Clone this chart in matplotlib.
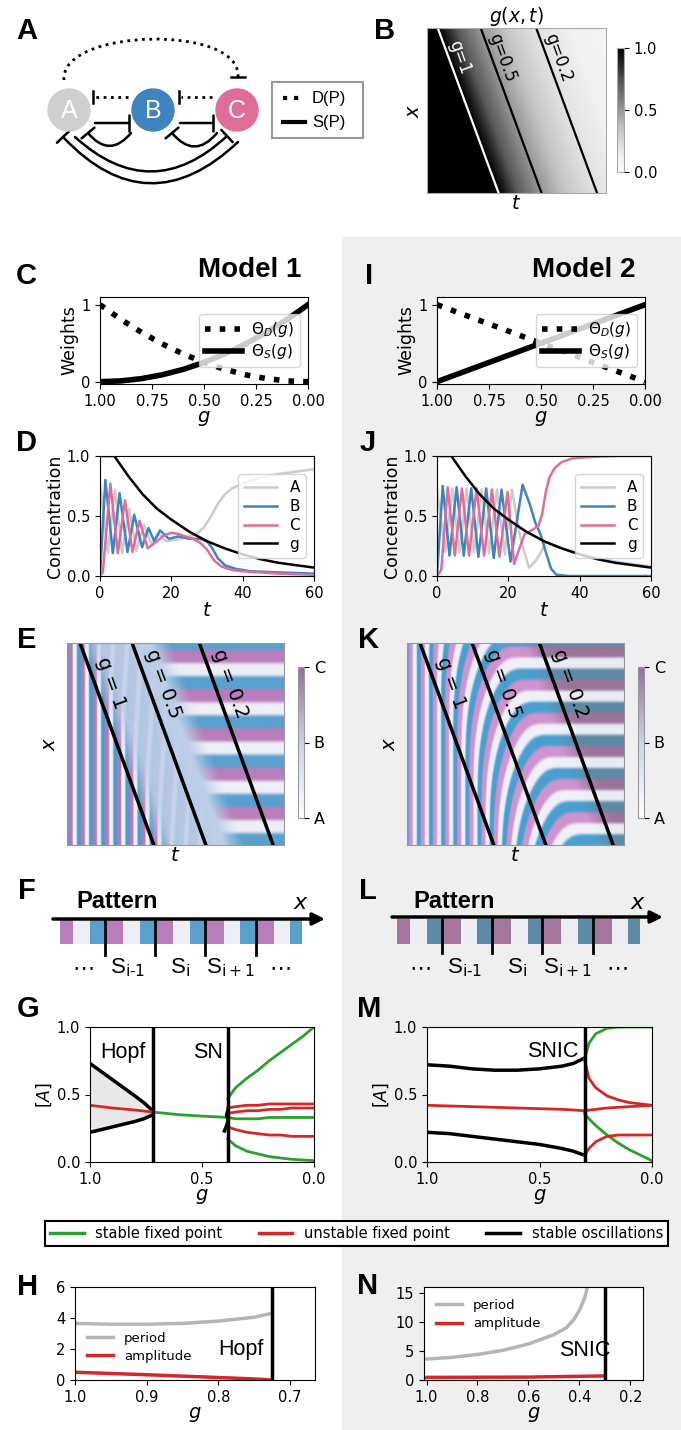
import numpy as np
import matplotlib.pyplot as plt
from matplotlib.colors import LinearSegmentedColormap, to_rgb
from matplotlib.cm import ScalarMappable
from matplotlib.lines import Line2D
from matplotlib.path import Path
from matplotlib.patches import Circle, FancyArrowPatch, Rectangle, ArrowStyle, PathPatch

W, H = 681, 1430
SANS = "Liberation Sans"

# ── data ─────────────────────────────────────────────────────────────────────
# C / I : weights vs g
w1_g = [1.0, 0.9, 0.8, 0.7, 0.6, 0.5, 0.4, 0.3, 0.2, 0.1, 0.0]
w1_D = [1.0, 0.81, 0.64, 0.49, 0.36, 0.25, 0.16, 0.09, 0.04, 0.01, 0.0]
w1_S = [0.0, 0.01, 0.04, 0.09, 0.16, 0.25, 0.36, 0.49, 0.64, 0.81, 1.0]
w2_g = [1.0, 0.0]
w2_D = [1.0, 0.0]
w2_S = [0.0, 1.0]

# D / J : concentrations vs t
g_t = [0, 4, 8, 12, 16, 20, 25, 30, 35, 40, 45, 50, 55, 60]
g_c = [1.0, 1.0, 0.83, 0.68, 0.56, 0.47, 0.37, 0.29, 0.23, 0.18, 0.14, 0.11, 0.09, 0.07]

d1_tA = [0, 2.2, 4.2, 6.2, 8.2, 10.2, 12.3, 14.5, 16.4, 18.6, 21, 24, 27, 29, 31, 33, 35, 37, 40, 45, 50, 55, 60]
d1_A = [0.78, 0.19, 0.72, 0.19, 0.56, 0.21, 0.43, 0.26, 0.35, 0.29, 0.30, 0.32, 0.35, 0.40, 0.49, 0.60, 0.68, 0.73, 0.77, 0.82, 0.85, 0.87, 0.89]
d1_tB = [0, 1.5, 3.6, 5.5, 7.7, 9.6, 11.8, 13.6, 15.2, 16.8, 19.3, 22, 25, 28, 30, 31.5, 33, 35, 38, 42, 50, 60]
d1_B = [0.0, 0.80, 0.19, 0.69, 0.20, 0.51, 0.24, 0.40, 0.29, 0.38, 0.31, 0.33, 0.31, 0.31, 0.29, 0.23, 0.15, 0.09, 0.06, 0.04, 0.03, 0.02]
d1_tC = [0, 0.8, 2.9, 5.0, 7.0, 9.1, 11.1, 13.4, 16, 18, 20, 22, 24, 26, 28, 30, 32, 34, 37, 40, 45, 50, 60]
d1_C = [0.0, 0.03, 0.77, 0.19, 0.63, 0.20, 0.46, 0.23, 0.29, 0.34, 0.36, 0.35, 0.33, 0.31, 0.28, 0.22, 0.13, 0.08, 0.05, 0.04, 0.03, 0.02, 0.01]

d2_tA = [0, 2.3, 4.3, 6.3, 8.3, 10.4, 12.5, 14.6, 16.8, 19.0, 21.0, 23.5, 25.8, 27.5, 28.8, 30.5, 33, 36, 40, 45, 50, 55, 60]
d2_A = [0.72, 0.20, 0.73, 0.20, 0.73, 0.20, 0.72, 0.19, 0.72, 0.18, 0.72, 0.30, 0.07, 0.12, 0.18, 0.28, 0.25, 0.22, 0.19, 0.15, 0.12, 0.10, 0.08]
d2_tB = [0, 1.6, 3.5, 5.5, 7.5, 9.6, 11.6, 13.8, 15.9, 18.1, 20.6, 24.0, 26, 27.5, 29, 30.5, 32, 33.5, 37, 40, 50, 60]
d2_B = [0.0, 0.75, 0.17, 0.74, 0.17, 0.73, 0.16, 0.73, 0.15, 0.72, 0.12, 0.76, 0.60, 0.45, 0.35, 0.20, 0.06, 0.01, 0.0, 0.0, 0.0, 0.0]
d2_tC = [0, 1.2, 3.0, 5.0, 7.0, 9.0, 11.1, 13.2, 15.4, 17.5, 19.8, 21.6, 23, 24.6, 26.5, 28.5, 29.5, 30.5, 31.5, 33, 35, 38, 42, 50, 60]
d2_C = [0.0, 0.05, 0.74, 0.17, 0.73, 0.17, 0.73, 0.17, 0.72, 0.16, 0.70, 0.10, 0.22, 0.35, 0.38, 0.42, 0.52, 0.70, 0.82, 0.90, 0.95, 0.98, 0.99, 1.0, 1.0]

# B / E / K : front of g in (t, x) as fractions of the axes
front_shift = 0.34
g_tau = [0.0, 0.06, 0.18, 0.30, 0.45, 0.61, 0.80, 1.00]
g_val = [1.0, 1.0, 0.70, 0.50, 0.33, 0.20, 0.12, 0.07]
g_marks = ["1", "0.5", "0.2"]
g_marks_tau = [0.06, 0.30, 0.61]

# F / L : frozen pattern along x
pattern_seq = ["C", "A", "B"] * 5

# G / M : bifurcation diagrams
hopf_g, sn_g, snic_g = 0.72, 0.385, 0.30
g1_osc_g = [1.0, 0.95, 0.9, 0.85, 0.8, 0.76, 0.72]
g1_osc_max = [0.73, 0.67, 0.61, 0.55, 0.49, 0.44, 0.38]
g1_osc_min = [0.22, 0.24, 0.26, 0.28, 0.30, 0.32, 0.35]
g1_uns_g = [1.0, 0.9, 0.8, 0.72]
g1_uns = [0.42, 0.40, 0.385, 0.37]
g1_st_g = [0.72, 0.6, 0.5, 0.385]
g1_st = [0.37, 0.35, 0.34, 0.33]
g1_br_g = [0.385, 0.35, 0.3, 0.25, 0.2, 0.15, 0.1, 0.05, 0.0]
g1_br_green = [[0.47, 0.55, 0.62, 0.68, 0.75, 0.81, 0.87, 0.93, 1.0],
               [0.17, 0.12, 0.08, 0.06, 0.04, 0.03, 0.02, 0.015, 0.01],
               [0.33, 0.32, 0.32, 0.32, 0.33, 0.33, 0.33, 0.33, 0.33]]
g1_br_red = [[0.40, 0.41, 0.42, 0.42, 0.43, 0.43, 0.43, 0.43, 0.43],
             [0.36, 0.37, 0.38, 0.38, 0.39, 0.39, 0.40, 0.40, 0.40],
             [0.26, 0.24, 0.22, 0.21, 0.20, 0.20, 0.19, 0.19, 0.19]]
g1_sn_g = [0.40, 0.39, 0.383, 0.39, 0.385]
g1_sn = [0.23, 0.27, 0.31, 0.35, 0.38]

g2_osc_g = [1.0, 0.9, 0.8, 0.7, 0.6, 0.5, 0.4, 0.35, 0.3]
g2_osc_max = [0.72, 0.71, 0.69, 0.68, 0.68, 0.69, 0.71, 0.73, 0.77]
g2_osc_min = [0.22, 0.21, 0.19, 0.17, 0.15, 0.13, 0.10, 0.08, 0.05]
g2_uns_g = [1.0, 0.8, 0.6, 0.4, 0.3, 0.2, 0.1, 0.0]
g2_uns = [0.42, 0.41, 0.40, 0.39, 0.38, 0.40, 0.41, 0.42]
g2_br_g = [0.3, 0.28, 0.25, 0.2, 0.15, 0.1, 0.05, 0.0]
g2_br_green = [[0.76, 0.88, 0.95, 0.99, 1.0, 1.0, 1.0, 1.0],
               [0.36, 0.32, 0.27, 0.20, 0.14, 0.09, 0.05, 0.01]]
g2_br_red = [[0.76, 0.62, 0.55, 0.49, 0.46, 0.44, 0.43, 0.42],
             [0.05, 0.10, 0.15, 0.19, 0.20, 0.20, 0.20, 0.20]]

# H / N : period and amplitude of the oscillations
h_g = [1.0, 0.95, 0.9, 0.85, 0.8, 0.75, 0.725]
h_period = [3.65, 3.6, 3.6, 3.65, 3.8, 4.05, 4.3]
h_amp = [0.5, 0.42, 0.34, 0.25, 0.16, 0.07, 0.0]
n_g = [1.0, 0.9, 0.8, 0.7, 0.6, 0.5, 0.45, 0.42, 0.40, 0.38, 0.365]
n_period = [3.6, 3.9, 4.4, 5.1, 6.2, 7.8, 9.0, 10.5, 12.0, 14.0, 16.5]
n_amp_g = [1.0, 0.6, 0.3]
n_amp = [0.45, 0.5, 0.7]

# ── colours ──────────────────────────────────────────────────────────────────
COL = {"A": "#cccccc", "B": "#3d84c0", "C": "#e06d99"}
GREEN, RED = "#2ca02c", "#d62728"
KYMO1 = {"A": "#f4f4fa", "B": "#4e9ccb", "C": "#b37bb8", "base": "#bccfe7"}
KYMO2 = {"A": "#f0f1f8", "B": "#4a9fd0", "C": "#cf94cf"}
KYMO2_DARK = {"A": "#e9ecf3", "B": "#5e89a3", "C": "#9c7399"}
PAT1 = {"A": "#eeeef6", "B": "#5aa0cd", "C": "#b87ebb"}
PAT2 = {"A": "#ececf3", "B": "#5e8aa5", "C": "#a5779f"}

plt.rcParams["font.size"] = 10.5
fig = plt.figure(figsize=(W / 100, H / 100), dpi=100)
fig.patches.append(Rectangle((342 / W, 0), 1 - 342 / W, 1 - 237 / H,
                             transform=fig.transFigure, color="#efefef", zorder=-5))


def px_axes(x0, y0, x1, y1):
    return fig.add_axes([x0 / W, 1 - y1 / H, (x1 - x0) / W, (y1 - y0) / H])


def cycle_rgb(phase, cols, sharp=2.0):
    rgb = np.zeros(phase.shape + (3,))
    tot = np.zeros(phase.shape)
    for k, key in enumerate(["B", "C", "A"]):
        w = np.clip(np.cos(phase - 2 * np.pi * k / 3), 0, None) ** sharp
        rgb += w[..., None] * np.array(to_rgb(cols[key]))
        tot += w
    return rgb / tot[..., None]


# ── B : g(x, t) ──────────────────────────────────────────────────────────────
tt = np.linspace(0, 1, 420)
xx = np.linspace(0, 1, 260)
T, X = np.meshgrid(tt, xx)
G = np.interp(T - front_shift * X, g_tau, g_val)

axB = px_axes(427, 28, 606, 193)
imB = axB.imshow(G, cmap="Greys", vmin=0, vmax=1, extent=(0, 1, 1, 0), aspect="auto")
for lab, tau in zip(g_marks, g_marks_tau):
    c = "white" if lab == "1" else "black"
    axB.plot([tau, tau + front_shift], [0, 1], color=c, lw=1.6)
    axB.text(tau + 0.06 + front_shift * 0.18, 0.18, f"g={lab}", rotation=-70,
             color=c, fontsize=12, ha="center", va="center", rotation_mode="anchor")
axB.set_xlim(0, 1); axB.set_ylim(1, 0)
axB.set_xticks([]); axB.set_yticks([])
axB.set_title("$g(x,t)$", fontsize=13.5, pad=1)
axB.set_xlabel("$t$", fontsize=14, labelpad=1)
axB.set_ylabel("$x$", fontsize=14, labelpad=3)
for s in axB.spines.values():
    s.set_color("#aaaaaa")
caxB = px_axes(617, 48, 624, 172)
cbB = fig.colorbar(imB, cax=caxB, ticks=[0, 0.5, 1.0])
cbB.ax.set_yticklabels(["0.0", "0.5", "1.0"], fontsize=10.5)
cbB.outline.set_edgecolor("#aaaaaa")

# ── C / I : weights ──────────────────────────────────────────────────────────
for (x0, x1), wg, wD, wS in [((100, 308), w1_g, w1_D, w1_S), ((437, 645), w2_g, w2_D, w2_S)]:
    ax = px_axes(x0, 297, x1, 384)
    ax.plot(wg, wD, "k:", lw=4, label=r"$\Theta_D(g)$")
    ax.plot(wg, wS, "k-", lw=4, label=r"$\Theta_S(g)$")
    ax.set_xlim(1, 0)
    ax.set_ylim(-0.03, 1.1)
    ax.set_xticks([1, 0.75, 0.5, 0.25, 0])
    ax.set_yticks([0, 1])
    ax.set_xlabel("$g$", fontsize=14, labelpad=0)
    ax.set_ylabel("Weights", fontsize=12.5, labelpad=2)
    ax.legend(loc="center right", fontsize=11, handlelength=2.4, borderpad=0.4,
              labelspacing=0.2, handletextpad=0.6)

# ── D / J : time courses ─────────────────────────────────────────────────────
for (x0, x1), series in [((100, 314), [(d1_tA, d1_A), (d1_tB, d1_B), (d1_tC, d1_C)]),
                         ((437, 651), [(d2_tA, d2_A), (d2_tB, d2_B), (d2_tC, d2_C)])]:
    ax = px_axes(x0, 456, x1, 576)
    for key, (ts, vs) in zip("ABC", series):
        ax.plot(ts, vs, color=COL[key], lw=1.8, label=key)
    ax.plot(g_t, g_c, color="black", lw=1.8, label="g")
    ax.set_xlim(0, 60); ax.set_ylim(0, 1.0)
    ax.set_xticks([0, 20, 40, 60]); ax.set_yticks([0, 0.5, 1.0])
    ax.set_xlabel("$t$", fontsize=14, labelpad=0)
    ax.set_ylabel("Concentration", fontsize=12.5, labelpad=2)
    ax.legend(loc="center right", fontsize=11, handlelength=2.2, labelspacing=0.25)

# ── E / K : kymographs ───────────────────────────────────────────────────────
osc_period = 0.056
band_period = 0.195
dt = tt[1] - tt[0]

f1 = np.interp(G, h_g[::-1], (h_period[0] / np.array(h_period))[::-1])
ph1 = 2 * np.pi * np.cumsum(f1, axis=1) * dt / osc_period
amp1 = np.interp(G, h_g[::-1], (np.array(h_amp) / h_amp[0])[::-1]) ** 1.3
amp1 = np.maximum(amp1, 0.13 * np.clip((G - 0.42) / 0.15, 0, 1))
rgb1 = cycle_rgb(ph1, KYMO1)
base = np.array(to_rgb(KYMO1["base"]))
img1 = base * (1 - amp1[..., None]) + rgb1 * amp1[..., None]
pw = np.clip((sn_g + 0.02 - G) / 0.1, 0, 1)[..., None]
img1 = img1 * (1 - pw) + cycle_rgb(2 * np.pi * X / band_period, PAT1) * pw

n_f = np.concatenate([[0.0], (n_period[0] / np.array(n_period))[::-1]])
f2 = np.interp(G, np.concatenate([[snic_g], n_g[::-1]]), n_f)
ph2 = 2 * np.pi * np.cumsum(f2, axis=1) * dt / osc_period
dim = np.clip((0.26 - G) / 0.08, 0, 1)[..., None]
img2 = cycle_rgb(ph2, KYMO2) * (1 - dim) + cycle_rgb(ph2, KYMO2_DARK) * dim

kymo_cmap = LinearSegmentedColormap.from_list("abc", ["#ffffff", "#c8d4eb", "#9b6ba0"])
for (x0, x1, cx), img in [((67, 284, 298), img1), ((407, 624, 638), img2)]:
    ax = px_axes(x0, 643, x1, 845)
    ax.imshow(img, extent=(0, 1, 1, 0), aspect="auto", interpolation="bilinear")
    for lab, tau in zip(g_marks, g_marks_tau):
        ax.plot([tau, tau + front_shift], [0, 1], color="black", lw=2.5)
        ax.text(tau + 0.075 + front_shift * 0.2, 0.2, f"g = {lab}", rotation=-70,
                fontsize=14, ha="center", va="center", rotation_mode="anchor")
    ax.set_xlim(0, 1); ax.set_ylim(1, 0)
    ax.set_xticks([]); ax.set_yticks([])
    ax.set_xlabel("$t$", fontsize=14, labelpad=1)
    ax.set_ylabel("$x$", fontsize=14, labelpad=6)
    for s in ax.spines.values():
        s.set_color("#999999")
    cax = px_axes(cx, 667, cx + 6, 818)
    cb = fig.colorbar(ScalarMappable(cmap=kymo_cmap), cax=cax, ticks=[0, 0.5, 1])
    cb.ax.set_yticklabels(["A", "B", "C"], fontsize=11.5)
    cb.outline.set_edgecolor("#999999")

# ── F / L : pattern ──────────────────────────────────────────────────────────
for (x0, x1), pal in [((60, 302), PAT1), ((397, 640), PAT2)]:
    ax = px_axes(x0, 919, x1, 944)
    ax.bar(np.arange(len(pattern_seq)) - 0.2, 1, width=1, align="edge",
           color=[pal[k] for k in pattern_seq], linewidth=0)
    ax.set_xlim(0, 14.5); ax.set_ylim(0, 1)
    ax.axis("off")

# ── G / M : bifurcation diagrams ─────────────────────────────────────────────
axG = px_axes(90, 1027, 314, 1162)
axG.fill_between(g1_osc_g, g1_osc_min, g1_osc_max, color="#e8e8e8", lw=0)
axG.plot(g1_osc_g, g1_osc_max, "k", lw=2.5)
axG.plot(g1_osc_g, g1_osc_min, "k", lw=2.5)
axG.plot(g1_uns_g, g1_uns, color=RED, lw=2)
axG.plot(g1_st_g, g1_st, color=GREEN, lw=2)
for v in g1_br_green:
    axG.plot(g1_br_g, v, color=GREEN, lw=2)
for v in g1_br_red:
    axG.plot(g1_br_g, v, color=RED, lw=2)
axG.plot(g1_sn_g, g1_sn, "k", lw=2.5)
axG.axvline(hopf_g, color="k", lw=2.5)
axG.axvline(sn_g, color="k", lw=2.5)

axM = px_axes(427, 1027, 652, 1162)
axM.plot(g2_osc_g, g2_osc_max, "k", lw=2.5)
axM.plot(g2_osc_g, g2_osc_min, "k", lw=2.5)
axM.plot(g2_uns_g, g2_uns, color=RED, lw=2)
for v in g2_br_green:
    axM.plot(g2_br_g, v, color=GREEN, lw=2)
for v in g2_br_red:
    axM.plot(g2_br_g, v, color=RED, lw=2)
axM.axvline(snic_g, color="k", lw=2.5)
for ax in (axG, axM):
    ax.set_xlim(1, 0); ax.set_ylim(0, 1)
    ax.set_xticks([1, 0.5, 0]); ax.set_yticks([0, 0.5, 1])
    ax.set_xlabel("$g$", fontsize=14, labelpad=0)
    ax.set_ylabel("$[A]$", fontsize=12.5, labelpad=2)
axG.text(0.955, 0.81, "Hopf", fontsize=15.5, family=SANS, va="center")
axG.text(0.405, 0.81, "SN", fontsize=15.5, family=SANS, va="center", ha="right")
axM.text(0.325, 0.82, "SNIC", fontsize=15.5, family=SANS, va="center", ha="right")

handles = [Line2D([], [], color=GREEN, lw=2.5), Line2D([], [], color=RED, lw=2.5),
           Line2D([], [], color="black", lw=2.5)]
leg = fig.legend(handles, ["stable fixed point", "unstable fixed point", "stable oscillations"],
                 loc="center", bbox_to_anchor=(356.5 / W, 1 - 1233.5 / H), ncol=3,
                 fontsize=10.5, fancybox=False, edgecolor="black", framealpha=1,
                 columnspacing=2.5, handlelength=2.3, borderpad=0.35)
leg.get_frame().set_linewidth(1.5)

# ── H / N : period and amplitude ─────────────────────────────────────────────
axH = px_axes(75, 1287, 315, 1380)
axH.plot(h_g, h_period, color="#b5b5b5", lw=2.5, label="period")
axH.plot(h_g, h_amp, color=RED, lw=2.5, label="amplitude")
axH.axvline(0.725, color="k", lw=2.5)
axH.set_xlim(1.0, 0.665); axH.set_ylim(0, 6)
axH.set_xticks([1.0, 0.9, 0.8, 0.7]); axH.set_yticks([0, 2, 4, 6])
axH.legend(loc="center left", bbox_to_anchor=(0.0, 0.35), frameon=False, fontsize=9.5,
           handlelength=2.0, labelspacing=0.4)
axH.text(0.80, 2.0, "Hopf", fontsize=15.5, family=SANS, va="center")

axN = px_axes(424, 1287, 643, 1380)
axN.plot(n_g, n_period, color="#b5b5b5", lw=2.5, label="period")
axN.plot(n_amp_g, n_amp, color=RED, lw=2.5, label="amplitude")
axN.axvline(snic_g, color="k", lw=2.5)
axN.set_xlim(1.01, 0.15); axN.set_ylim(0, 16)
axN.set_xticks([1.0, 0.8, 0.6, 0.4, 0.2]); axN.set_yticks([0, 5, 10, 15])
axN.legend(loc="upper left", frameon=False, fontsize=9.5, handlelength=2.0, labelspacing=0.4)
axN.text(0.48, 5.0, "SNIC", fontsize=15.5, family=SANS, va="center")
for ax in (axH, axN):
    ax.set_xlabel("$g$", fontsize=14, labelpad=0)

# ── overlay: panel A diagram, pattern arrows, panel letters ─────────────────
ov = fig.add_axes([0, 0, 1, 1])
ov.set_xlim(0, W); ov.set_ylim(H, 0)
ov.axis("off")

nodes = {"A": (69, 110), "B": (153, 110), "C": (237, 110)}
for k, (cx, cy) in nodes.items():
    ov.add_patch(Circle((cx, cy), 21, color=COL[k] if k != "A" else "#cfcfcf", zorder=3))
    ov.text(cx, cy + 1, k, color="white", fontsize=18, family=SANS, ha="center",
            va="center", zorder=4)


def inhib(p0, p1, rad=0.0, ls="-"):
    ov.add_patch(FancyArrowPatch(p0, p1, arrowstyle=ArrowStyle("-[", widthB=0.6, lengthB=0.0),
                                 connectionstyle=f"arc3,rad={rad}", linestyle=ls, lw=1.8,
                                 color="black", mutation_scale=10, shrinkA=0, shrinkB=0))


# dotted (D) and solid (S) repressions
ov.plot([128, 95], [97, 97], "k:", lw=2)
ov.plot([93, 93], [91, 103], "k-", lw=1.8)
ov.plot([212, 181], [97, 97], "k:", lw=2)
ov.plot([179, 179], [91, 103], "k-", lw=1.8)
inhib((95, 123), (129, 123))
inhib((180, 123), (213, 123))
inhib((131, 133), (88, 133), rad=-0.6)
inhib((217, 133), (172, 133), rad=-0.6)
inhib((75, 137), (227, 136), rad=0.46)
inhib((238, 142), (63, 137), rad=-0.5)
top_arc = Path([(64, 80), (60, 28), (242, 24), (238, 77)],
               [Path.MOVETO, Path.CURVE4, Path.CURVE4, Path.CURVE4])
ov.add_patch(PathPatch(top_arc, fill=False, linestyle=":", lw=2, edgecolor="black"))
ov.plot([231, 245], [77, 77], "k-", lw=1.8)

ov.add_patch(Rectangle((272, 82), 91, 56, fill=False, edgecolor="#999999", lw=1.5))
ov.plot([283, 305], [98, 98], "k:", lw=3)
ov.plot([283, 305], [122, 122], "k-", lw=3)
ov.text(312, 98, "D(P)", fontsize=12, family=SANS, va="center")
ov.text(312, 122, "S(P)", fontsize=12, family=SANS, va="center")

# pattern arrows, separators and labels
for dx, xa0, xa1, ya in [(0, 53, 325, 919), (337, 392, 663, 917)]:
    ov.annotate("", xy=(xa1, ya), xytext=(xa0, ya),
                arrowprops=dict(arrowstyle="-|>", lw=2.5, color="black", mutation_scale=18,
                                shrinkA=0, shrinkB=0))
    for sx in [105, 155, 205, 256]:
        ov.plot([sx + dx, sx + dx], [ya, ya + 36], "k-", lw=2)
    ov.text(76 + dx, 902, "Pattern", fontsize=17, family=SANS, weight="bold", va="center")
    ov.text(293 + dx, 903, "$x$", fontsize=16, va="center")
    for lx, lab in [(83, r"$\cdots$"), (128, r"S$_{\rm i\text{-}1}$"), (180, r"S$_{\rm i}$"),
                    (230, r"S$_{\rm i+1}$"), (280, r"$\cdots$")]:
        ov.text(lx + dx, 968, lab, fontsize=16, family=SANS, ha="center", va="center")

ov.text(250, 270, "Model 1", fontsize=20, family=SANS, weight="bold", ha="center", va="center")
ov.text(584, 270, "Model 2", fontsize=20, family=SANS, weight="bold", ha="center", va="center")
for lab, x, y in [("A", 27, 31), ("B", 385, 31), ("C", 26, 276), ("I", 369, 276),
                  ("D", 27, 443), ("J", 368, 443), ("E", 27, 640), ("K", 369, 640),
                  ("F", 27, 891), ("L", 368, 891), ("G", 28, 1009), ("M", 369, 1009),
                  ("H", 28, 1287), ("N", 368, 1286)]:
    ov.text(x, y, lab, fontsize=21, family=SANS, weight="bold", ha="center", va="center")

fig.savefig("out.png", dpi=100)
